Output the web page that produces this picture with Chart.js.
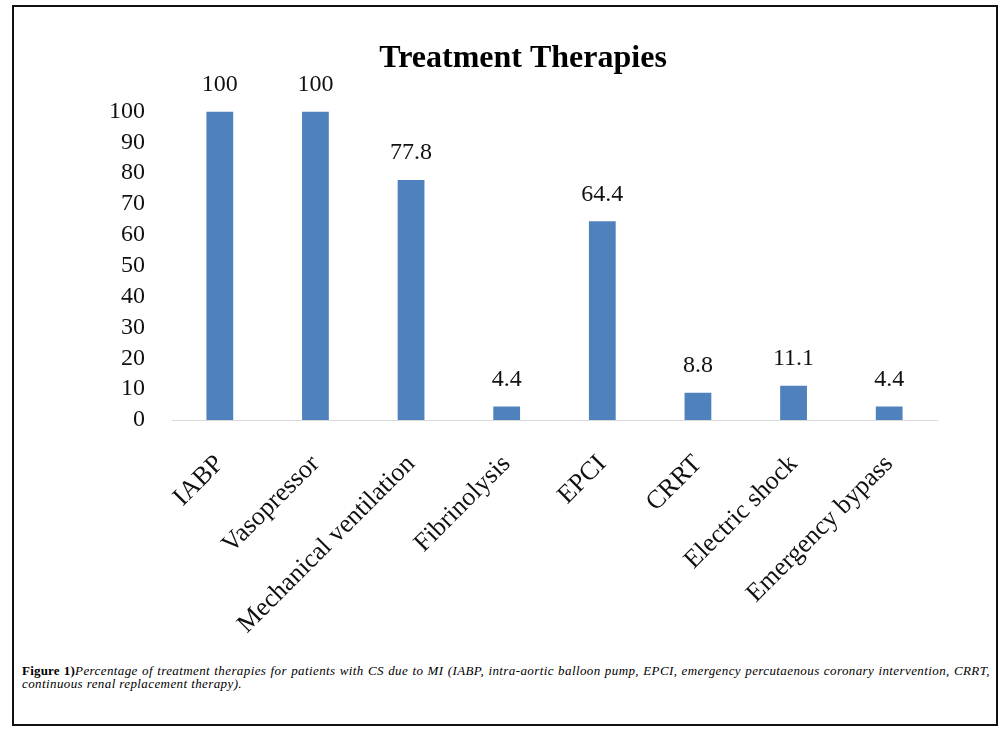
<!DOCTYPE html>
<html lang="en">
<head>
    <meta charset="UTF-8">
    <title>Treatment Therapies</title>
    <script src="https://cdn.jsdelivr.net/npm/chart.js"></script>
    <style>
        body { margin: 0; background: #fff; }
        #frame {
            position: absolute; left: 12px; top: 5px;
            width: 986px; height: 721px;
            box-sizing: border-box; border: 2px solid #111;
        }
        #therapyChart { position: absolute; left: 0; top: 0; }
        #caption {
            position: absolute; left: 22px; top: 664px; width: 968px;
            font-family: 'Liberation Serif', serif; font-size: 13px;
            letter-spacing: 0.4px; line-height: 13px; color: #000;
        }
        #caption .l1 { display: block; text-align: justify; text-align-last: justify; white-space: nowrap; }
        #caption b { font-weight: bold; letter-spacing: 0.2px; }
        #caption i { font-style: italic; }
    </style>
</head>
<body>
    <div id="frame"></div>
    <canvas id="therapyChart" width="1008" height="640"></canvas>
    <div id="caption">
        <span class="l1"><b>Figure 1)</b><i>Percentage of treatment therapies for patients with CS due to MI (IABP, intra-aortic balloon pump, EPCI, emergency percutaenous coronary intervention, CRRT,</i></span>
        <i>continuous renal replacement therapy).</i>
    </div>
    <script>
        // 데이터
        const therapies = ['IABP', 'Vasopressor', 'Mechanical ventilation', 'Fibrinolysis', 'EPCI', 'CRRT', 'Electric shock', 'Emergency bypass'];
        const percents = [100, 100, 77.8, 4.4, 64.4, 8.8, 11.1, 4.4];
        const yTicks = [0, 10, 20, 30, 40, 50, 60, 70, 80, 90, 100];

        const serif = "'Liberation Serif', 'Times New Roman', serif";

        // 막대 위 값 표시
        const valueLabels = {
            id: 'valueLabels',
            afterDatasetsDraw(chart) {
                const ctx = chart.ctx;
                const meta = chart.getDatasetMeta(0);
                ctx.save();
                ctx.font = '24px ' + serif;
                ctx.fillStyle = '#111';
                ctx.textAlign = 'center';
                ctx.textBaseline = 'middle';
                meta.data.forEach((bar, i) => {
                    ctx.fillText(String(percents[i]), bar.x, bar.y - 27);
                });
                ctx.restore();
            }
        };

        const ctx = document.getElementById('therapyChart').getContext('2d');
        new Chart(ctx, {
            type: 'bar',
            data: {
                labels: therapies,
                datasets: [{
                    data: percents,
                    backgroundColor: '#4F81BD',
                    barPercentage: 0.28,
                    categoryPercentage: 1
                }]
            },
            options: {
                responsive: false,
                animation: false,
                layout: { padding: { left: 109, right: 71, top: 0, bottom: 0 } },
                plugins: {
                    legend: { display: false },
                    tooltip: { enabled: false },
                    title: {
                        display: true,
                        text: 'Treatment Therapies',
                        color: '#000',
                        font: { family: serif, size: 32, weight: 'bold' },
                        padding: { top: 40, bottom: 33 }
                    }
                },
                scales: {
                    x: {
                        grid: { display: false, drawTicks: false },
                        border: { display: true, color: '#d9d9d9', width: 1 },
                        ticks: {
                            color: '#111',
                            font: { family: serif, size: 26 },
                            minRotation: 45,
                            maxRotation: 45,
                            padding: 29,
                            autoSkip: false
                        },
                        afterFit(scale) { scale.height = 220; }
                    },
                    y: {
                        min: 0,
                        max: 100,
                        grid: { display: false, drawTicks: false },
                        border: { display: false },
                        afterBuildTicks(scale) { scale.ticks = yTicks.map(v => ({ value: v })); },
                        ticks: {
                            color: '#111',
                            font: { family: serif, size: 24 },
                            padding: 27,
                            autoSkip: false
                        },
                        afterFit(scale) { scale.width = 63; }
                    }
                }
            },
            plugins: [valueLabels]
        });
    </script>
</body>
</html>
